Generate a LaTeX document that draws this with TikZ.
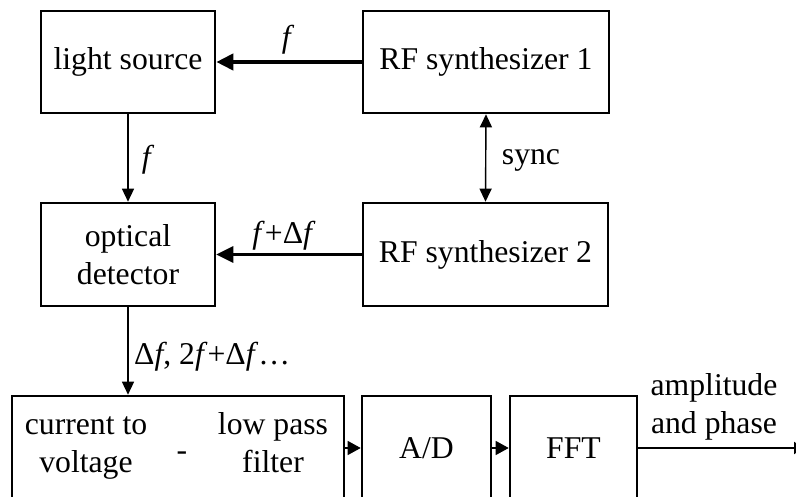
\documentclass[tikz,border=0pt]{standalone}
\usepackage{fontspec}
\setmainfont{Liberation Serif}
\usetikzlibrary{arrows.meta}
\begin{document}
\begin{tikzpicture}[x=1pt,y=-1pt,
  every node/.style={font=\fontsize{31.7pt}{38pt}\selectfont},
  box/.style={draw,line width=2.6pt,inner sep=0pt,align=center},
  txt/.style={inner sep=0pt,align=center},
  thickarrow/.style={line width=4pt,-{Triangle[length=17pt,width=16pt]}},
  thinarrow/.style={line width=1.4pt,-{Triangle[length=13pt,width=12pt]}},
  syncarrow/.style={line width=1.4pt,{Triangle[length=13pt,width=12pt]}-{Triangle[length=13pt,width=12pt]}},
  smallarrow/.style={line width=1.4pt,-{Triangle[length=13pt,width=14pt]}},
  outarrow/.style={line width=2pt,-{Triangle[length=10pt,width=12pt]}}]
\useasboundingbox (0,0) rectangle (796,497);
\clip (0,0) rectangle (796,497);
% boxes
\node[box,minimum width=174pt,minimum height=102pt] (ls) at (128,62) {light source};
\node[box,minimum width=246pt,minimum height=102pt] (rf1) at (486,62) {RF synthesizer 1};
\node[box,minimum width=174pt,minimum height=103pt] (od) at (128,254.5) {optical\\detector};
\node[box,minimum width=245pt,minimum height=103pt] (rf2) at (485.5,254.5) {RF synthesizer 2};
\node[box,minimum width=332pt,minimum height=104pt] (cv) at (178,448) {};
\node[box,minimum width=129pt,minimum height=104pt] (ad) at (426.5,448) {A/D};
\node[box,minimum width=127pt,minimum height=104pt] (fft) at (573.5,448) {FFT};
% texts inside the first bottom box
\node[txt] (cvt) at (86,446) {\strut current to\\\strut voltage};
\node[txt] (dash) at (182,456) {-};
\node[txt] (lpf) at (273,446) {\strut low pass\\\strut filter};
% connectors
\draw[thickarrow] (rf1.west) -- (ls.east);
\node[txt] (lf1) at (288,40) {\textit{f}};
\draw[thinarrow] (ls.south) -- (od.north);
\node[txt] (lf2) at (148,160) {\textit{f}};
\draw[syncarrow] (rf1.south) -- (rf2.north);
\node[txt] (lsync) at (531,160) {sync};
\draw[thickarrow,line width=3pt] (rf2.west) -- (od.east);
\node[txt] (lf3) at (284,236) {\textit{f}+Δ\textit{f}};
\draw[thinarrow] (od.south) -- (cv.north -| od.south);
\node[txt,anchor=west] (lf4) at (134,357) {Δ\textit{f}, 2\textit{f}+Δ\textit{f}…};
\draw[smallarrow] (cv.east) -- (ad.west);
\draw[smallarrow] (ad.east) -- (fft.west);
\coordinate (out) at (804,448);
\draw[outarrow] (fft.east) -- (out);
\node[txt] (lamp) at (714,407) {\strut amplitude\\\strut and phase};
\end{tikzpicture}
\end{document}
